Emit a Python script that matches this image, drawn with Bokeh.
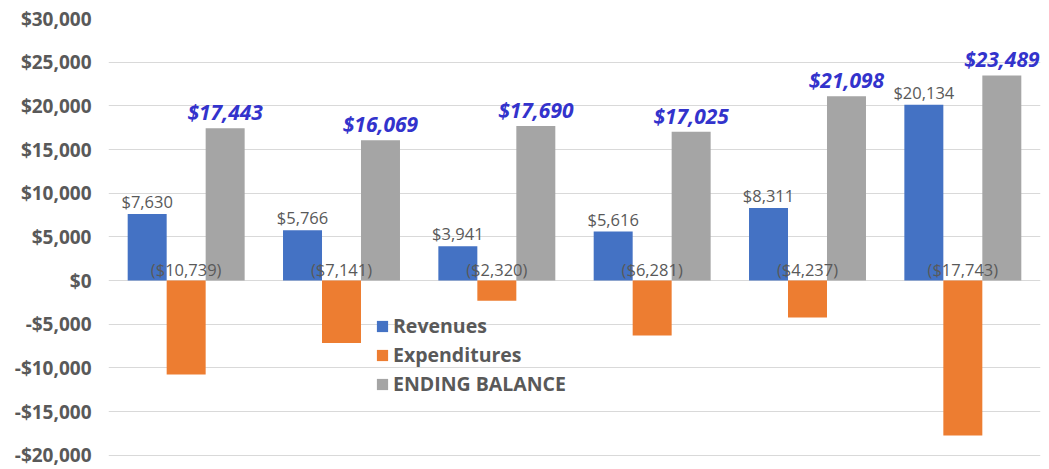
from bokeh.plotting import figure
from bokeh.models import ColumnDataSource, Range1d, FixedTicker, Legend, LegendItem
from bokeh.embed import file_html
from bokeh.resources import INLINE
from bokeh.core.properties import value

groups = [0, 1, 2, 3, 4, 5]
revenues = [7630, 5766, 3941, 5616, 8311, 20134]
expenditures = [-10739, -7141, -2320, -6281, -4237, -17743]
ending_balance = [17443, 16069, 17690, 17025, 21098, 23489]
series_names = ["Revenues", "Expenditures", "ENDING BALANCE"]
colors = ["#4472C4", "#ED7D31", "#A5A5A5"]
y_ticks = [-20000, -15000, -10000, -5000, 0, 5000, 10000, 15000, 20000, 25000, 30000]
y_tick_labels = ["-$20,000", "-$15,000", "-$10,000", "-$5,000", "$0", "$5,000",
                 "$10,000", "$15,000", "$20,000", "$25,000", "$30,000"]

W = 0.251
FONT = "Open Sans"

p = figure(width=1049, height=469, output_backend="svg", toolbar_location=None,
           x_range=Range1d(-0.5, 5.5), y_range=Range1d(-20250, 30000),
           min_border_left=108, min_border_right=9, min_border_top=18, min_border_bottom=12)
p.outline_line_color = None
p.xaxis.visible = False
p.xgrid.visible = False
p.ygrid.grid_line_color = "#D9D9D9"
p.ygrid.grid_line_width = 1
p.yaxis.ticker = FixedTicker(ticks=y_ticks)
p.yaxis.major_label_overrides = {t: l for t, l in zip(y_ticks, y_tick_labels)}
p.yaxis.axis_line_color = None
p.yaxis.major_tick_line_color = None
p.yaxis.minor_tick_line_color = None
p.yaxis.major_tick_out = 0
p.yaxis.major_label_standoff = 17
p.yaxis.major_label_text_font = FONT
p.yaxis.major_label_text_font_style = "bold"
p.yaxis.major_label_text_font_size = "19px"
p.yaxis.major_label_text_color = "#595959"

src = ColumnDataSource(dict(
    x_rev=[g - W for g in groups],
    x_exp=[g for g in groups],
    x_end=[g + W for g in groups],
    rev=revenues, exp=expenditures, end=ending_balance,
    zero=[0] * len(groups),
    rev_lab=["${:,}".format(v) for v in revenues],
    exp_lab=["(${:,})".format(-v) for v in expenditures],
    end_lab=["${:,}".format(v) for v in ending_balance],
))

r1 = p.vbar(x="x_rev", top="rev", width=W, source=src, fill_color=colors[0], line_color=None)
r2 = p.vbar(x="x_exp", top="exp", width=W, source=src, fill_color=colors[1], line_color=None)
r3 = p.vbar(x="x_end", top="end", width=W, source=src, fill_color=colors[2], line_color=None)

p.text(x="x_rev", y="rev", text="rev_lab", source=src, text_align="center",
       text_baseline="bottom", y_offset=-1, text_font=value(FONT), text_font_size="16.5px",
       text_color="#595959")
p.text(x="x_exp", y="zero", text="exp_lab", source=src, text_align="center",
       text_baseline="bottom", y_offset=0, text_font=value(FONT), text_font_size="16.5px",
       text_color="#595959")
p.text(x="x_end", y="end", text="end_lab", source=src, text_align="center",
       text_baseline="bottom", y_offset=-2, text_font=value(FONT), text_font_size="21px",
       text_font_style="bold italic", text_color="#3333CC")

legend = Legend(items=[LegendItem(label=series_names[i], renderers=[r])
                       for i, r in enumerate([r1, r2, r3])],
                location=(267, 59), orientation="vertical")
legend.background_fill_alpha = 0
legend.border_line_color = None
legend.padding = 0
legend.margin = 0
legend.spacing = 0
legend.glyph_width = 14
legend.glyph_height = 14
legend.label_height = 29
legend.label_standoff = 4
legend.label_text_font = FONT
legend.label_text_font_style = "bold"
legend.label_text_font_size = "19.5px"
legend.label_text_color = "#595959"
p.add_layout(legend, "center")

open("out.html", "w").write(file_html(p, INLINE))
